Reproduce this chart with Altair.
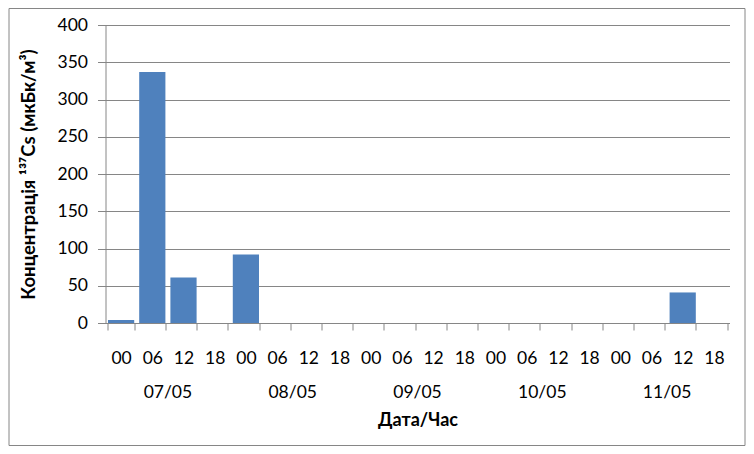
import altair as alt
import pandas as pd

dates = ["07/05", "08/05", "09/05", "10/05", "11/05"]
hours = ["00", "06", "12", "18"]
values = [4, 337, 61, 0,
          92, 0, 0, 0,
          0, 0, 0, 0,
          0, 0, 0, 0,
          0, 0, 41, 0]

slots = [f"{d} {h}" for d in dates for h in hours]
df = pd.DataFrame({"slot": slots, "value": values})
ddf = pd.DataFrame({"date": dates})

GRAY = "#868686"
FONT = "Lato"
W, H = 624, 298

border = alt.Chart(alt.Data(values=[{}])).mark_rect(
    fill="white", fillOpacity=0, stroke=GRAY, strokeWidth=1
).encode(
    x=alt.value(-96.5), x2=alt.value(W + 15.5),
    y=alt.value(-16.5), y2=alt.value(H + 122.5)
)

bars = alt.Chart(df).mark_bar(color="#4F81BD").encode(
    x=alt.X("slot:N", sort=slots,
            scale=alt.Scale(paddingInner=0.16, paddingOuter=0.08),
            axis=alt.Axis(title="Дата/Час", titlePadding=45,
                          titleFont=FONT, titleFontSize=18, titleFontWeight="bold",
                          titleColor="black",
                          labelExpr="substring(datum.label, 6)", labelAngle=0,
                          labelFont=FONT, labelFontSize=17.5, labelColor="black",
                          labelPadding=19,
                          tickBand="extent", tickSize=7, tickColor=GRAY,
                          domainColor=GRAY, grid=False)),
    y=alt.Y("value:Q",
            scale=alt.Scale(domain=[0, 400], nice=False),
            axis=alt.Axis(title="Концентрація ¹³⁷Cs (мкБк/м³)",
                          values=list(range(0, 401, 50)),
                          titleFont=FONT, titleFontSize=18.5, titleFontWeight="bold",
                          titleColor="black", titlePadding=19,
                          labelFont=FONT, labelFontSize=17.5, labelColor="black",
                          labelPadding=10,
                          tickSize=8, tickColor=GRAY, domainColor=GRAY,
                          grid=True, gridColor=GRAY))
)

date_text = alt.Chart(ddf).mark_text(
    font=FONT, fontSize=17.5, color="black", baseline="middle"
).encode(
    x=alt.X("date:N", sort=dates,
            scale=alt.Scale(paddingInner=0, paddingOuter=0), axis=None),
    y=alt.value(H + 70),
    text="date:N"
)

chart = alt.layer(border, bars, date_text).resolve_scale(x="independent").properties(
    width=W, height=H,
    autosize=alt.AutoSizeParams(type="none"),
    padding={"left": 97.5, "top": 17, "right": 16, "bottom": 123},
    background="white"
).configure_view(stroke=None)

chart.save("out.html", embed_options={"renderer": "svg", "actions": False})
